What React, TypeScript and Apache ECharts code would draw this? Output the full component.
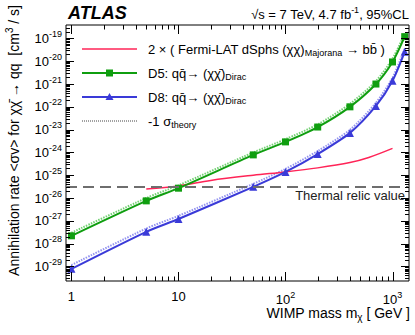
import React, { useEffect, useRef } from 'react';
import * as echarts from 'echarts';

// ---- data (cm^3/s vs GeV) ----
const masses = [1, 5, 10, 50, 100, 200, 400, 700, 1000, 1300];
const d5Limit = [2.2e-28, 7.5e-27, 2.7e-26, 7.8e-25, 2.9e-24, 1.3e-23, 1.0e-22, 1.0e-21, 9.3e-21, 1.2e-19];
const d5Minus1Sigma = [3.0e-28, 1.0e-26, 3.6e-26, 1.0e-24, 3.8e-24, 1.7e-23, 1.35e-22, 1.35e-21, 1.3e-20, 1.6e-19];
const d8Limit = [7.8e-30, 3.3e-28, 1.2e-27, 3.1e-26, 1.4e-25, 8.5e-25, 7.2e-24, 1.1e-22, 1.4e-21, 2.6e-20];
const d8Minus1Sigma = [1.15e-29, 4.6e-28, 1.65e-27, 4.2e-26, 1.9e-25, 1.15e-24, 9.8e-24, 1.5e-22, 1.9e-21, 3.5e-20];
const fermiMasses = [5, 10, 20, 50, 100, 200, 400, 600, 1000];
const fermiLimit = [2.5e-26, 3.4e-26, 5.9e-26, 1.0e-25, 1.4e-25, 2.1e-25, 3.6e-25, 6.0e-25, 1.5e-24];
const thermalRelic = 3e-26;

// axis ranges and ticks (y axis is plotted as log10 of the rate)
const xMin = 0.889;
const xMax = 1426;
const yMinExp = -29.64;
const yMaxExp = -18.41;
const xDecades = [1, 10, 100, 1000];
const yDecadeExps = [-30, -29, -28, -27, -26, -25, -24, -23, -22, -21, -20, -19];
const minorSteps = [1, 2, 3, 4, 5, 6, 7, 8, 9];

const FONT = "'Liberation Sans', Arial, Helvetica, sans-serif";
const RED = '#ff2457';
const GREEN = '#0f9e0f';
const GREEN_LIGHT = '#74d174';
const BLUE = '#3a3ad8';
const BLUE_LIGHT = '#9494f0';

const lg = (v: number) => Math.log10(v);

function buildXTicks() {
  const out: { v: number; major: number }[] = [];
  xDecades.forEach((d) => {
    minorSteps.forEach((k) => {
      const v = d * k;
      if (v >= xMin && v <= xMax) out.push({ v, major: k === 1 ? 1 : 0 });
    });
  });
  return out;
}
function buildYTicks() {
  const out: { v: number; major: number }[] = [];
  yDecadeExps.forEach((e) => {
    minorSteps.forEach((k) => {
      const v = e + lg(k);
      if (v >= yMinExp && v <= yMaxExp) out.push({ v, major: k === 1 ? 1 : 0 });
    });
  });
  return out;
}

export default function App() {
  const ref = useRef<HTMLDivElement>(null);
  useEffect(() => {
    if (!ref.current) return;
    const chart = echarts.init(ref.current, undefined, { renderer: 'svg' });
    const xTicks = buildXTicks();
    const yTicks = buildYTicks();

    const labelRich = {
      b: { fontSize: 13, fontFamily: FONT, color: '#000' },
      s: { fontSize: 9, fontFamily: FONT, color: '#000', padding: [0, 0, 9, 0] },
    };

    const legendRich = {
      t: { fontSize: 13, fontFamily: FONT, color: '#000' },
      sub: { fontSize: 9, fontFamily: FONT, color: '#000', padding: [8, 0, 0, 0] },
    };

    const legendRows = [
      { y: 49, color: RED, width: 1.5, dash: null as any, symbol: 'none', text: '{t|2 × ( Fermi-LAT dSphs (χχ)}{sub|Majorana}{t| → bb\u0304 )}' },
      { y: 73, color: GREEN, width: 2, dash: null as any, symbol: 'rect', text: '{t|D5: qq\u0304→ (χχ\u0304)}{sub|Dirac}' },
      { y: 97, color: BLUE, width: 2, dash: null as any, symbol: 'triangle', text: '{t|D8: qq\u0304→ (χχ\u0304)}{sub|Dirac}' },
      { y: 121, color: '#444', width: 1, dash: [1, 1], symbol: 'none', text: '{t|-1 σ}{sub|theory}' },
    ];

    const graphic: any[] = [];
    legendRows.forEach((r) => {
      graphic.push({
        type: 'line',
        shape: { x1: 82, y1: r.y, x2: 137, y2: r.y },
        style: { stroke: r.color, lineWidth: r.width, lineDash: r.dash || undefined },
        silent: true,
      });
      if (r.symbol === 'rect') {
        graphic.push({ type: 'rect', shape: { x: 106, y: r.y - 3.5, width: 7, height: 7 }, style: { fill: r.color } });
      } else if (r.symbol === 'triangle') {
        graphic.push({
          type: 'polygon',
          shape: { points: [[109.5, r.y - 4], [113.5, r.y + 3], [105.5, r.y + 3]] },
          style: { fill: r.color },
        });
      }
      graphic.push({
        type: 'text',
        x: 148,
        y: r.y,
        style: { text: r.text, rich: legendRich, align: 'left', verticalAlign: 'middle', fill: '#000' },
      });
    });

    graphic.push(
      {
        type: 'text',
        x: 68,
        y: 13,
        style: {
          text: 'ATLAS',
          fontSize: 18,
          fontWeight: 'bold',
          fontStyle: 'italic',
          fontFamily: FONT,
          fill: '#000',
          align: 'left',
          verticalAlign: 'middle',
        },
      },
      {
        type: 'text',
        x: 409,
        y: 14,
        style: {
          text: '{t|√s = 7 TeV, 4.7 fb}{s|-1}{t|, 95%CL}',
          rich: {
            t: { fontSize: 13, fontFamily: FONT, color: '#000' },
            s: { fontSize: 9, fontFamily: FONT, color: '#000', padding: [0, 0, 9, 0] },
          },
          align: 'right',
          verticalAlign: 'middle',
        },
      },
      {
        type: 'text',
        x: 410,
        y: 313,
        style: {
          text: '{t|WIMP mass m}{sub|χ}{t| [ GeV ]}',
          rich: {
            t: { fontSize: 14, fontFamily: FONT, color: '#000' },
            sub: { fontSize: 10, fontFamily: FONT, color: '#000', padding: [8, 0, 0, 0] },
          },
          align: 'right',
          verticalAlign: 'middle',
        },
      },
      {
        type: 'text',
        x: 14,
        y: 5,
        rotation: Math.PI / 2,
        style: {
          text: '{t|Annihilation rate <σv> for χχ\u0304 → qq  [cm}{s|3}{t| / s]}',
          rich: {
            t: { fontSize: 14, fontFamily: FONT, color: '#000' },
            s: { fontSize: 10, fontFamily: FONT, color: '#000', padding: [0, 0, 9, 0] },
          },
          align: 'right',
          verticalAlign: 'middle',
        },
      }
    );

    const smooth = 0.25;

    const option: any = {
      animation: false,
      backgroundColor: '#fff',
      grid: {
        left: 66,
        right: 6,
        top: 25,
        bottom: 54,
        show: true,
        borderColor: '#000',
        borderWidth: 1,
        backgroundColor: 'transparent',
        containLabel: false,
      },
      xAxis: {
        type: 'log',
        logBase: 10,
        min: xMin,
        max: xMax,
        splitNumber: 4,
        axisLine: { show: false },
        axisTick: { show: false },
        splitLine: { show: false },
        minorTick: { show: false },
        axisLabel: {
          show: true,
          margin: 9,
          showMinLabel: false,
          showMaxLabel: false,
          formatter: (v: number) => {
            const e = Math.round(Math.log10(v));
            if (e === 0) return '{b|1}';
            if (e === 1) return '{b|10}';
            return `{b|10}{s|${e}}`;
          },
          rich: labelRich,
        },
      },
      yAxis: {
        type: 'value',
        min: yMinExp,
        max: yMaxExp,
        splitNumber: 11,
        axisLine: { show: false },
        axisTick: { show: false },
        splitLine: { show: false },
        minorTick: { show: false },
        axisLabel: {
          show: true,
          margin: 4,
          showMinLabel: false,
          showMaxLabel: false,
          formatter: (v: number) => {
            if (Math.abs(v - Math.round(v)) > 1e-6) return '';
            return `{b|10}{s|${Math.round(v)}}`;
          },
          rich: labelRich,
        },
      },
      series: [
        {
          name: 'D5 -1σ theory',
          type: 'line',
          data: masses.map((m, i) => [m, lg(d5Minus1Sigma[i])]),
          smooth,
          showSymbol: false,
          symbol: 'none',
          lineStyle: { color: GREEN_LIGHT, width: 2, type: [1.5, 1.2] },
          silent: true,
          z: 2,
        },
        {
          name: 'D8 -1σ theory',
          type: 'line',
          data: masses.map((m, i) => [m, lg(d8Minus1Sigma[i])]),
          smooth,
          showSymbol: false,
          symbol: 'none',
          lineStyle: { color: BLUE_LIGHT, width: 2, type: [1.5, 1.2] },
          silent: true,
          z: 2,
        },
        {
          name: 'Fermi-LAT dSphs',
          type: 'line',
          data: fermiMasses.map((m, i) => [m, lg(fermiLimit[i])]),
          smooth: 0.35,
          showSymbol: false,
          symbol: 'none',
          lineStyle: { color: RED, width: 1.5 },
          silent: true,
          z: 3,
          markLine: {
            silent: true,
            symbol: ['none', 'none'],
            animation: false,
            lineStyle: { color: '#6e6e6e', width: 2, type: [11, 6] },
            label: {
              show: true,
              position: 'insideEndBottom',
              formatter: 'Thermal relic value',
              fontSize: 13,
              fontFamily: FONT,
              color: '#222',
              distance: [4, 2],
            },
            data: [{ yAxis: lg(thermalRelic) }],
          },
        },
        {
          name: 'D5',
          type: 'line',
          data: masses.map((m, i) => [m, lg(d5Limit[i])]),
          smooth,
          symbol: 'rect',
          symbolSize: 7,
          itemStyle: { color: GREEN },
          lineStyle: { color: GREEN, width: 2 },
          silent: true,
          z: 4,
        },
        {
          name: 'D8',
          type: 'line',
          data: masses.map((m, i) => [m, lg(d8Limit[i])]),
          smooth,
          symbol: 'triangle',
          symbolSize: 8,
          itemStyle: { color: BLUE },
          lineStyle: { color: BLUE, width: 2 },
          silent: true,
          z: 4,
        },
        {
          name: 'xticks',
          type: 'custom',
          silent: true,
          z: 10,
          clip: false,
          encode: { x: 0, y: 1 },
          data: xTicks.map((t) => [t.v, -25, t.major]),
          renderItem: (params: any, api: any) => {
            const cs = params.coordSys;
            const px = Math.round(api.coord([api.value(0), -25])[0]) + 0.5;
            const L = api.value(2) ? 9 : 4.5;
            const bottom = cs.y + cs.height;
            const top = cs.y;
            return {
              type: 'group',
              children: [
                { type: 'line', shape: { x1: px, y1: bottom, x2: px, y2: bottom - L }, style: { stroke: '#000', lineWidth: 1 } },
                { type: 'line', shape: { x1: px, y1: top, x2: px, y2: top + L }, style: { stroke: '#000', lineWidth: 1 } },
              ],
            };
          },
        },
        {
          name: 'yticks',
          type: 'custom',
          silent: true,
          z: 10,
          clip: false,
          encode: { x: 0, y: 1 },
          data: yTicks.map((t) => [10, t.v, t.major]),
          renderItem: (params: any, api: any) => {
            const cs = params.coordSys;
            const py = Math.round(api.coord([10, api.value(1)])[1]) + 0.5;
            const L = api.value(2) ? 8 : 4;
            const left = cs.x;
            const right = cs.x + cs.width;
            return {
              type: 'group',
              children: [
                { type: 'line', shape: { x1: left, y1: py, x2: left + L, y2: py }, style: { stroke: '#000', lineWidth: 1 } },
                { type: 'line', shape: { x1: right, y1: py, x2: right - L, y2: py }, style: { stroke: '#000', lineWidth: 1 } },
              ],
            };
          },
        },
      ],
      graphic,
    };
    chart.setOption(option);
    return () => chart.dispose();
  }, []);

  return <div ref={ref} style={{ width: 415, height: 335, position: 'absolute', left: 0, top: 0 }} />;
}
